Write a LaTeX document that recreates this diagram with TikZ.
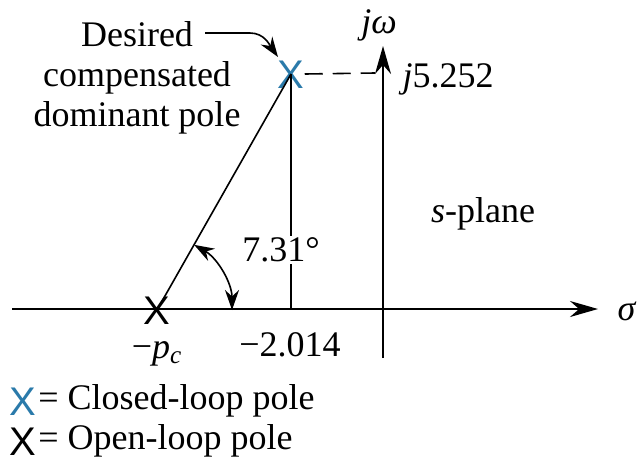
\documentclass[tikz,border=0pt]{standalone}
\usepackage{fontspec}
\setmainfont{Liberation Serif}
\newfontfamily\crossfont{Liberation Sans}
\usepackage{xcolor}
\usetikzlibrary{arrows.meta}
\definecolor{poleblue}{HTML}{2A7AAA}

\begin{document}
\begin{tikzpicture}[
  x=0.5pt, y=0.5pt,
  font=\fontsize{18}{20}\selectfont,
  axis/.style={line width=1pt, -{Stealth[length=14pt, width=8pt]}},
  thin/.style={line width=0.8pt},
  pole/.style={inner sep=0pt, text height=14.3pt, text depth=0pt,
    font=\fontsize{20}{20}\selectfont\crossfont},
  lbl/.style={inner sep=1pt, align=center},
  arr/.style={line width=0.8pt, -{Stealth[length=10pt, width=7pt]}}
]
\useasboundingbox (0,0) rectangle (640,468);

% Axes
\coordinate (sl) at (12,159);
\coordinate (sr) at (598,159);
\coordinate (wb) at (383,110);
\coordinate (wt) at (383,422);
\draw[axis] (sl) -- (sr);
\draw[axis] (wb) -- (wt);
\node[lbl] (sigma) at (627,157) {\textit{σ}};
\node[lbl] (jw) at (379,443) {\textit{jω}};

% Poles
\node[pole, text=poleblue] (cl) at (291,394) {X};
\node[pole] (ol) at (157,158) {X};
\coordinate (foot) at (291,159);
\coordinate (wp) at (383,395);

% Lines to the pole
\draw[thin] (ol.center) -- (cl.center);
\draw[thin] (cl.center) -- (foot);
\draw[thin, dashed, dash pattern=on 9pt off 5pt] (cl.east) -- ([xshift=-4]wp);
\node[lbl, fill=white] (ang) at (281,218) {7.31°};

% Angle
\draw[thin, {Stealth[length=10pt, width=7pt]}-{Stealth[length=10pt, width=7pt]}]
  ([shift={(60.3:75)}]ol.center) arc[start angle=60.3, end angle=0, radius=75];

% Labels
\node[lbl] (desired) at (137,390) {Desired\\compensated\\dominant pole};
\coordinate (d1) at (205,435);
\draw[arr] (d1) -- ++(45,0) to[out=0, in=125] ([shift={(-13,17)}]cl.center);
\node[lbl] (jval) at (448,389) {\textit{j}5.252};
\node[lbl, inner sep=0pt] (pc) at (157,114) {−\textit{p}\textsubscript{\textit{c}}};
\node[lbl] (val) at (290,123) {−2.014};
\node[lbl] (splane) at (483,254) {\textit{s}-plane};

% Legend
\node[pole, text=poleblue] (lx1) at (23,67) {X};
\node[lbl, anchor=west] (lt1) at (36,67) {= Closed-loop pole};
\node[pole] (lx2) at (23,27) {X};
\node[lbl, anchor=west] (lt2) at (36,27) {= Open-loop pole};
\end{tikzpicture}
\end{document}
